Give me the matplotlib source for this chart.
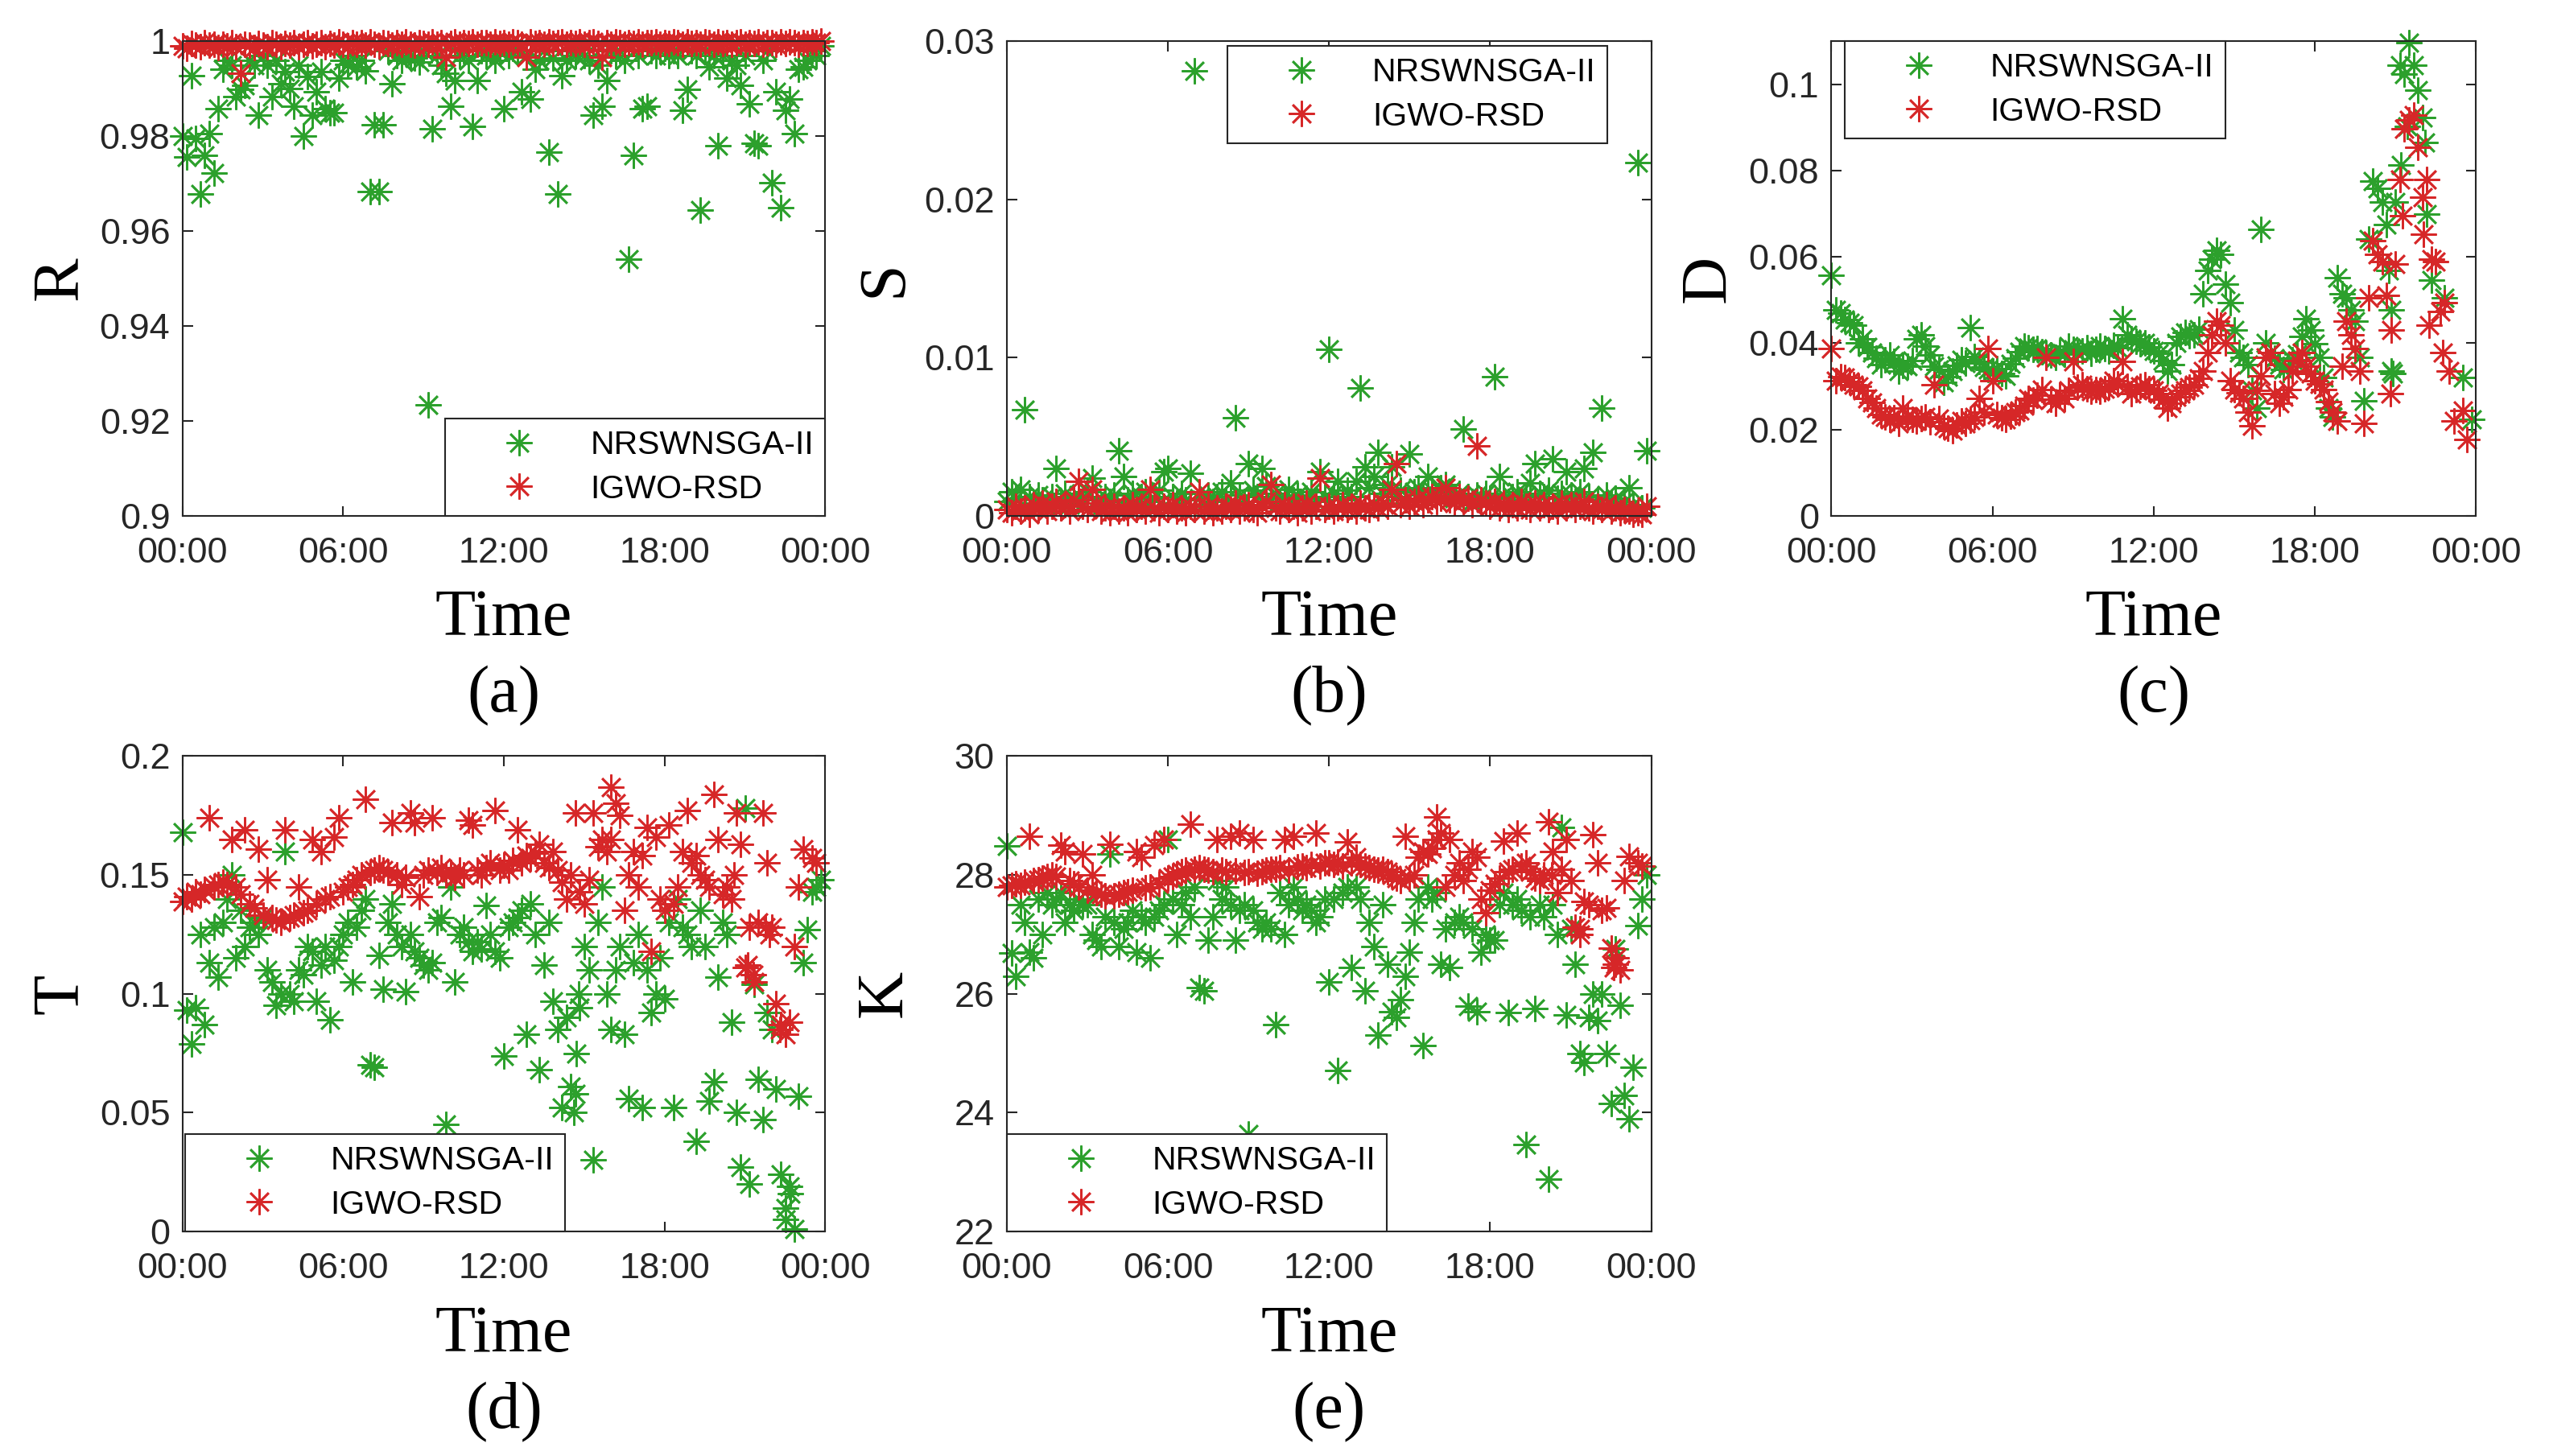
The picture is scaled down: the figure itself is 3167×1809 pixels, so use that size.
import numpy as np
import matplotlib.pyplot as plt
from matplotlib.ticker import FuncFormatter

plt.rcParams['font.family'] = ['Liberation Sans', 'DejaVu Sans']

# time of day in hours, one sample every 10 minutes
hours = np.arange(144) / 6.0
xtick_pos = [0, 6, 12, 18, 24]
xtick_lbl = ['00:00', '06:00', '12:00', '18:00', '00:00']
names = ['NRSWNSGA-II', 'IGWO-RSD']

# ---- (a) R ----
R_nrsw = [0.980, 0.9756, 0.9927, 0.9795, 0.9678, 0.976, 0.9805, 0.9722, 0.9858, 0.994, 0.996, 0.995,
          0.9883, 0.9898, 0.9907, 0.996, 0.995, 0.9844, 0.997, 0.995, 0.9883, 0.996, 0.991, 0.9935,
          0.990, 0.9863, 0.995, 0.980, 0.9925, 0.9844, 0.9893, 0.9935, 0.9858, 0.9849, 0.9849, 0.9922,
          0.996, 0.9951, 0.997, 0.9945, 0.996, 0.9937, 0.9683, 0.9824, 0.9683, 0.9824, 0.998, 0.991,
          0.997, 0.996, 0.998, 0.997, 0.9965, 0.9956, 0.998, 0.9234, 0.9815, 0.997, 0.995, 0.9932,
          0.9863, 0.9917, 0.997, 0.998, 0.996, 0.982, 0.9917, 0.998, 0.997, 0.998, 0.996, 0.998,
          0.9857, 0.997, 0.9985, 0.998, 0.9893, 0.997, 0.9878, 0.9941, 0.996, 0.998, 0.9766, 0.9965,
          0.9678, 0.9927, 0.996, 0.998, 0.997, 0.9985, 0.997, 0.996, 0.9844, 0.995, 0.9863, 0.9917,
          0.998, 0.997, 0.998, 0.996, 0.9541, 0.976, 0.997, 0.9858, 0.9863, 0.998, 0.997, 0.998,
          0.9985, 0.997, 0.998, 0.997, 0.9854, 0.9898, 0.998, 0.997, 0.9644, 0.998, 0.9946, 0.997,
          0.978, 0.997, 0.9922, 0.996, 0.995, 0.9907, 0.997, 0.9868, 0.9785, 0.978, 0.996, 0.998,
          0.9702, 0.9893, 0.9649, 0.9854, 0.9878, 0.9805, 0.9941, 0.9946, 0.996, 0.998, 0.997, 0.999]
R_igwo = [0.9990, 0.9985, 0.9995, 0.9992, 0.9988, 0.9996, 0.9991, 0.9994, 0.9987, 0.9993, 0.9990, 0.9997,
          0.9989, 0.9932, 0.9994, 0.9991, 0.9986, 0.9995, 0.9992, 0.9989, 0.9997, 0.9993, 0.9988, 0.9995,
          0.9991, 0.9996, 0.9989, 0.9994, 0.9997, 0.9990, 0.9993, 0.9996, 0.9988, 0.9995, 0.9992, 0.9998,
          0.9994, 0.9990, 0.9997, 0.9993, 0.9996, 0.9991, 0.9998, 0.9994, 0.9990, 0.9997, 0.9995, 0.9992,
          0.9996, 0.9993, 0.9998, 0.9994, 0.9991, 0.9997, 0.9995, 0.9993, 0.9998, 0.9994, 0.9996, 0.9966,
          0.9995, 0.9998, 0.9993, 0.9997, 0.9995, 0.9999, 0.9994, 0.9997, 0.9996, 0.9993, 0.9998, 0.9995,
          0.9997, 0.9994, 0.9999, 0.9996, 0.9993, 0.9966, 0.9998, 0.9995, 0.9997, 0.9993, 0.9998, 0.9995,
          0.9996, 0.9999, 0.9994, 0.9997, 0.9995, 0.9998, 0.9993, 0.9996, 0.9999, 0.9995, 0.9966, 0.9997,
          0.9994, 0.9998, 0.9996, 0.9993, 0.9997, 0.9995, 0.9999, 0.9994, 0.9997, 0.9996, 0.9998, 0.9993,
          0.9997, 0.9995, 0.9999, 0.9996, 0.9994, 0.9998, 0.9995, 0.9997, 0.9993, 0.9998, 0.9996, 0.9994,
          0.9998, 0.9995, 0.9997, 0.9993, 0.9996, 0.9999, 0.9994, 0.9997, 0.9995, 0.9998, 0.9993, 0.9996,
          0.9997, 0.9994, 0.9998, 0.9995, 0.9999, 0.9996, 0.9993, 0.9997, 0.9995, 0.9998, 0.9996, 1.0000]

# ---- (b) S ----
S_nrsw = [0.0009, 0.0015, 0.0011, 0.0017, 0.0067, 0.0012, 0.0008, 0.0013, 0.0010, 0.0006, 0.0012, 0.0030,
          0.0009, 0.0014, 0.0007, 0.0011, 0.0013, 0.0008, 0.0015, 0.0024, 0.0010, 0.0006, 0.0012, 0.0009,
          0.0013, 0.0041, 0.0025, 0.0010, 0.0014, 0.0008, 0.0012, 0.0015, 0.0009, 0.0011, 0.0016, 0.0028,
          0.0030, 0.0012, 0.0008, 0.0014, 0.0010, 0.0027, 0.0281, 0.0011, 0.0007, 0.0013, 0.0009, 0.0012,
          0.0015, 0.0010, 0.0021, 0.0062, 0.0013, 0.0009, 0.0033, 0.0016, 0.0012, 0.0030, 0.0019, 0.0011,
          0.0014, 0.0008, 0.0012, 0.0017, 0.0010, 0.0013, 0.0007, 0.0011, 0.0015, 0.0009, 0.0028, 0.0012,
          0.0105, 0.0014, 0.0022, 0.0010, 0.0016, 0.0012, 0.0022, 0.0081, 0.0031, 0.0018, 0.0025, 0.0040,
          0.0014, 0.0020, 0.0031, 0.0012, 0.0016, 0.0010, 0.0039, 0.0015, 0.0018, 0.0013, 0.0025, 0.0016,
          0.0012, 0.0018, 0.0020, 0.0015, 0.0011, 0.0014, 0.0055, 0.0012, 0.0009, 0.0013, 0.0010, 0.0014,
          0.0011, 0.0088, 0.0025, 0.0013, 0.0009, 0.0012, 0.0015, 0.0010, 0.0013, 0.0021, 0.0033, 0.0014,
          0.0012, 0.0016, 0.0036, 0.0011, 0.0014, 0.0028, 0.0013, 0.0009, 0.0015, 0.0030, 0.0012, 0.0040,
          0.0010, 0.0068, 0.0013, 0.0008, 0.0011, 0.0006, 0.0009, 0.0018, 0.0007, 0.0223, 0.0005, 0.0041]
S_igwo = [0.0004, 0.0002, 0.0006, 0.0003, 0.0005, 0.0001, 0.0007, 0.0004, 0.0008, 0.0003, 0.0006, 0.0009,
          0.0005, 0.0007, 0.0003, 0.0010, 0.0022, 0.0006, 0.0004, 0.0017, 0.0008, 0.0003, 0.0005, 0.0002,
          0.0006, 0.0003, 0.0005, 0.0002, 0.0007, 0.0004, 0.0006, 0.0003, 0.0017, 0.0005, 0.0002, 0.0006,
          0.0004, 0.0007, 0.0003, 0.0005, 0.0002, 0.0006, 0.0004, 0.0015, 0.0003, 0.0006, 0.0002, 0.0005,
          0.0003, 0.0006, 0.0004, 0.0008, 0.0003, 0.0005, 0.0007, 0.0004, 0.0002, 0.0006, 0.0009, 0.0020,
          0.0005, 0.0003, 0.0007, 0.0004, 0.0006, 0.0002, 0.0005, 0.0008, 0.0003, 0.0006, 0.0024, 0.0004,
          0.0006, 0.0003, 0.0005, 0.0007, 0.0004, 0.0006, 0.0003, 0.0008, 0.0005, 0.0004, 0.0007, 0.0005,
          0.0008, 0.0006, 0.0017, 0.0033, 0.0007, 0.0010, 0.0006, 0.0009, 0.0011, 0.0007, 0.0010, 0.0012,
          0.0009, 0.0011, 0.0018, 0.0010, 0.0008, 0.0012, 0.0009, 0.0011, 0.0007, 0.0044, 0.0010, 0.0008,
          0.0006, 0.0009, 0.0005, 0.0008, 0.0004, 0.0007, 0.0005, 0.0009, 0.0006, 0.0004, 0.0008, 0.0005,
          0.0007, 0.0004, 0.0006, 0.0003, 0.0008, 0.0005, 0.0007, 0.0004, 0.0006, 0.0009, 0.0005, 0.0003,
          0.0006, 0.0004, 0.0007, 0.0003, 0.0005, 0.0002, 0.0004, 0.0003, 0.0001, 0.0002, 0.0001, 0.0006]

# ---- (c) D ----
nan = np.nan
D_nrsw = [0.0558, 0.0478, 0.0470, 0.0455, 0.0448, 0.0441, 0.0400, 0.0410, 0.0392, 0.0378, 0.0365, 0.0351,
          0.0362, 0.0372, 0.0358, 0.0335, 0.0348, 0.0346, 0.0360, 0.0410, 0.0420, 0.0394, 0.0372, 0.0346,
          0.0340, 0.0309, 0.0322, 0.0335, 0.0348, 0.0362, 0.0355, 0.0436, 0.0370, 0.0357, 0.0345, 0.0340,
          0.0335, 0.0342, 0.0330, 0.0325, 0.0352, 0.0365, 0.0380, 0.0394, 0.0390, 0.0385, 0.0388, 0.0380,
          0.0376, 0.0372, 0.0368, 0.0380, 0.0375, 0.0394, 0.0385, 0.0378, 0.0382, 0.0390, 0.0376, 0.0386,
          0.0394, 0.0388, 0.0383, 0.0395, 0.0390, 0.0457, 0.0420, 0.0410, 0.0405, 0.0398, 0.0400, 0.0392,
          0.0383, 0.0376, 0.0360, 0.0335, 0.0350, 0.0400, 0.0415, 0.0425, 0.0418, 0.0420, 0.0432, 0.0515,
          0.0568, 0.0595, 0.0616, 0.0605, 0.0537, 0.0494, 0.0431, 0.0378, 0.0367, 0.0350, 0.0290, 0.0250,
          0.0663, 0.0400, 0.0378, 0.0365, 0.0351, 0.0340, 0.0346, 0.0362, 0.0375, 0.0415, 0.0457, 0.0431,
          0.0399, 0.0367, 0.0320, 0.0250, 0.0230, 0.0552, 0.0515, 0.0505, 0.0478, 0.0452, 0.0367, 0.0267,
          0.0642, 0.0775, 0.0759, 0.0727, 0.0674, 0.0478, 0.0727, 0.1044, 0.1023, 0.1097, 0.1044, 0.0986,
          0.0923, 0.0700, 0.0547, nan, nan, 0.0505, nan, nan, nan, 0.0320, nan, 0.0224]
D_igwo = [0.0388, 0.0314, 0.0322, 0.0320, 0.0312, 0.0304, 0.0300, 0.0290, 0.0272, 0.0262, 0.0250, 0.0235,
          0.0230, 0.0224, 0.0228, 0.0214, 0.0250, 0.0232, 0.0224, 0.0220, 0.0226, 0.0230, 0.0218, 0.0304,
          0.0225, 0.0208, 0.0204, 0.0198, 0.0210, 0.0219, 0.0215, 0.0222, 0.0230, 0.0272, 0.0240, 0.0388,
          0.0314, 0.0235, 0.0228, 0.0224, 0.0232, 0.0240, 0.0245, 0.0255, 0.0272, 0.0268, 0.0280, 0.0293,
          0.0367, 0.0270, 0.0261, 0.0280, 0.0272, 0.0290, 0.0357, 0.0298, 0.0304, 0.0295, 0.0288, 0.0293,
          0.0288, 0.0295, 0.0300, 0.0314, 0.0305, 0.0357, 0.0300, 0.0283, 0.0292, 0.0300, 0.0304, 0.0295,
          0.0290, 0.0283, 0.0270, 0.0250, 0.0261, 0.0275, 0.0283, 0.0290, 0.0298, 0.0304, 0.0318, 0.0335,
          0.0378, 0.0420, 0.0452, 0.0441, 0.0400, 0.0314, 0.0293, 0.0285, 0.0272, 0.0240, 0.0208, 0.0290,
          0.0325, 0.0367, 0.0378, 0.0283, 0.0261, 0.0275, 0.0293, 0.0335, 0.0360, 0.0378, 0.0346, 0.0330,
          0.0314, 0.0305, 0.0293, 0.0265, 0.0240, 0.0219, 0.0346, 0.0452, 0.0420, 0.0388, 0.0335, 0.0214,
          0.0505, 0.0637, 0.0605, 0.0590, 0.0510, 0.0431, 0.0584, 0.0780, 0.0896, 0.0917, 0.0928, 0.0854,
          0.0738, 0.0780, 0.0595, 0.0590, 0.0473, 0.0494, 0.0335, 0.0219, nan, 0.0245, 0.0177, nan]
# extra evening samples (hour, value)
D_nrsw_extra_h = [20.75, 20.85, 20.9, 21.2, 21.45, 22.1]
D_nrsw_extra = [0.0568, 0.0335, 0.0330, 0.0812, 0.0902, 0.0865]
D_igwo_extra_h = [20.8, 21.25, 22.05, 22.25, 22.75]
D_igwo_extra = [0.0283, 0.0695, 0.0653, 0.0441, 0.0378]

# ---- (d) T ----
T_nrsw = [0.168, 0.093, 0.079, 0.094, 0.125, 0.087, 0.113, 0.128, 0.107, 0.130, 0.140, 0.150,
          0.115, 0.135, 0.120, 0.128, 0.130, 0.125, 0.132, 0.110, 0.105, 0.095, 0.100, 0.160,
          0.100, 0.097, 0.110, 0.108, 0.120, 0.118, 0.097, 0.112, 0.120, 0.089, 0.114, 0.120,
          0.125, 0.130, 0.105, 0.128, 0.135, 0.140, 0.070, 0.069, 0.116, 0.102, 0.130, 0.138,
          0.125, 0.120, 0.101, 0.125, 0.118, 0.115, 0.112, 0.110, 0.113, 0.130, 0.132, 0.045,
          0.145, 0.105, 0.125, 0.128, 0.122, 0.118, 0.122, 0.119, 0.137, 0.125, 0.118, 0.115,
          0.074, 0.128, 0.130, 0.132, 0.135, 0.083, 0.138, 0.125, 0.068, 0.112, 0.130, 0.097,
          0.085, 0.052, 0.090, 0.061, 0.058, 0.094, 0.120, 0.110, 0.030, 0.130, 0.145, 0.100,
          0.085, 0.110, 0.120, 0.083, 0.056, 0.113, 0.125, 0.052, 0.110, 0.092, 0.100, 0.115,
          0.098, 0.130, 0.052, 0.140, 0.128, 0.125, 0.120, 0.038, 0.135, 0.120, 0.055, 0.063,
          0.107, 0.130, 0.125, 0.088, 0.050, 0.027, 0.178, 0.020, 0.104, 0.064, 0.047, 0.092,
          0.085, 0.060, 0.024, 0.010, 0.019, 0.001, 0.057, 0.113, 0.127, 0.143, 0.145, 0.148]
T_igwo = [0.139, 0.141, 0.140, 0.143, 0.142, 0.144, 0.174, 0.145, 0.146, 0.147, 0.146, 0.165,
          0.145, 0.142, 0.169, 0.138, 0.136, 0.161, 0.133, 0.148, 0.132, 0.131, 0.130, 0.169,
          0.132, 0.133, 0.145, 0.134, 0.135, 0.165, 0.138, 0.160, 0.140, 0.141, 0.166, 0.174,
          0.143, 0.145, 0.146, 0.148, 0.150, 0.182, 0.151, 0.152, 0.153, 0.152, 0.151, 0.172,
          0.150, 0.146, 0.149, 0.176, 0.172, 0.141, 0.150, 0.152, 0.174, 0.151, 0.153, 0.150,
          0.151, 0.149, 0.152, 0.150, 0.173, 0.171, 0.152, 0.150, 0.153, 0.155, 0.177, 0.152,
          0.154, 0.152, 0.156, 0.169, 0.155, 0.158, 0.157, 0.159, 0.163, 0.155, 0.153, 0.160,
          0.152, 0.147, 0.140, 0.150, 0.176, 0.143, 0.138, 0.148, 0.176, 0.162, 0.165, 0.160,
          0.187, 0.180, 0.175, 0.135, 0.150, 0.160, 0.145, 0.158, 0.170, 0.118, 0.166, 0.140,
          0.135, 0.171, 0.138, 0.145, 0.160, 0.177, 0.155, 0.158, 0.150, 0.148, 0.145, 0.184,
          0.165, 0.142, 0.145, 0.140, 0.176, 0.163, 0.111, 0.128, 0.105, 0.130, 0.176, 0.155,
          0.128, 0.096, 0.087, 0.083, 0.088, 0.120, 0.145, 0.161, nan, 0.157, 0.155, nan]
T_nrsw_extra_h = [14.6, 14.7, 14.8, 22.5, 22.7]
T_nrsw_extra = [0.050, 0.075, 0.100, 0.005, 0.016]
T_igwo_extra_h = [16.0, 20.6, 21.1, 21.3, 21.75, 21.9, 22.3]
T_igwo_extra = [0.165, 0.150, 0.112, 0.108, 0.128, 0.125, 0.085]

# ---- (e) K ----
K_nrsw = [28.49, 26.69, 26.30, 27.50, 27.20, 26.70, 26.60, 27.60, 27.00, 27.70, 27.50, 27.60,
          27.70, 27.20, 27.50, 27.40, 27.60, 27.50, 27.50, 27.00, 26.90, 26.80, 27.30, 28.35,
          27.20, 26.80, 27.10, 27.20, 27.40, 26.70, 27.30, 27.20, 26.60, 27.30, 27.40, 27.50,
          28.60, 27.60, 27.00, 27.50, 27.70, 27.30, 27.80, 26.10, 26.05, 26.90, 27.30, 27.90,
          27.60, 27.80, 27.50, 26.90, 27.40, 27.50, 23.64, 27.40, 27.20, 27.10, 27.20, 27.10,
          25.48, 27.70, 27.00, 27.50, 27.80, 27.60, 27.40, 27.50, 27.40, 27.20, 27.30, 27.60,
          26.20, 27.60, 24.71, 27.70, 27.80, 26.45, 27.80, 27.60, 26.05, 27.20, 26.80, 25.30,
          27.50, 26.50, 25.70, 25.60, 25.90, 26.30, 26.70, 27.20, 27.60, 25.13, 27.80, 27.60,
          27.70, 26.50, 27.10, 26.45, 27.20, 27.30, 27.20, 25.79, 27.10, 25.70, 26.70, 27.00,
          26.90, 26.90, 27.50, 27.70, 25.69, 27.50, 27.60, 27.40, 23.47, 27.30, 25.75, 27.50,
          27.30, 22.88, 27.50, 27.00, 28.80, 25.65, 27.10, 26.50, 25.00, 24.85, 25.60, 26.00,
          25.55, 26.00, 25.00, 24.15, 26.75, 25.80, 24.29, 23.90, 24.76, 27.15, 27.60, 28.00]
K_igwo = [27.80, 27.82, 27.85, 27.83, 27.88, 28.65, 27.90, 27.92, 27.95, 27.98, 28.00, 27.97,
          28.50, 28.40, 27.90, 27.85, 27.80, 28.35, 27.75, 28.00, 27.70, 27.68, 27.65, 28.51,
          27.65, 27.68, 27.70, 27.72, 27.75, 28.40, 28.30, 27.78, 27.80, 28.50, 27.85, 28.60,
          27.95, 27.98, 28.02, 28.05, 28.08, 28.85, 28.10, 28.12, 28.10, 28.08, 28.06, 28.60,
          28.08, 28.05, 28.65, 28.07, 28.70, 28.04, 28.06, 28.60, 28.03, 28.05, 28.08, 28.10,
          28.10, 28.12, 28.60, 28.08, 28.65, 28.14, 28.15, 28.12, 28.18, 28.71, 28.15, 28.20,
          28.20, 28.18, 28.22, 28.15, 28.55, 28.20, 28.30, 28.18, 28.15, 28.12, 28.10, 28.08,
          28.10, 28.05, 28.00, 27.95, 27.90, 28.65, 27.95, 28.00, 28.30, 28.40, 28.35, 28.45,
          28.98, 28.70, 27.80, 28.60, 28.00, 28.20, 27.90, 28.10, 28.40, 28.30, 27.60, 27.36,
          27.75, 27.85, 27.95, 28.57, 28.05, 28.10, 28.70, 28.15, 28.20, 28.05, 27.95, 27.90,
          28.00, 28.89, 28.40, 27.70, 28.10, 28.60, 27.90, 27.12, 27.00, 27.55, 27.50, 28.68,
          28.20, 27.40, 27.45, 26.77, 26.50, 26.40, 27.90, 28.31, nan, 28.20, 28.15, nan]
K_igwo_extra_h = [16.0, 20.3, 21.35, 22.6, 22.7]
K_igwo_extra = [28.60, 28.00, 27.10, 26.45, 26.60]

green = '#2ca02c'
red = '#d62728'
axis_color = (0.15, 0.15, 0.15)
star = (8, 2, 0)


def draw_panel(ax, nrsw, igwo, ylab, ylim, yticks, tag, leg_loc, leg_anchor,
               nrsw_extra=None, igwo_extra=None):
    xg, yg = hours, np.array(nrsw, dtype=float)
    if nrsw_extra is not None:
        xg = np.concatenate([xg, nrsw_extra[0]])
        yg = np.concatenate([yg, nrsw_extra[1]])
    xr, yr = hours, np.array(igwo, dtype=float)
    if igwo_extra is not None:
        xr = np.concatenate([xr, igwo_extra[0]])
        yr = np.concatenate([yr, igwo_extra[1]])

    ax.plot(xg, yg, linestyle='none', marker=star, ms=23, mew=1.9,
            color=green, label=names[0], clip_on=False)
    ax.plot(xr, yr, linestyle='none', marker=star, ms=23, mew=1.9,
            color=red, label=names[1], clip_on=False)

    ax.set_xlim(0, 24)
    ax.set_ylim(*ylim)
    ax.set_xticks(xtick_pos)
    ax.set_xticklabels(xtick_lbl)
    ax.set_yticks(yticks)
    ax.yaxis.set_major_formatter(FuncFormatter(lambda v, p: f'{v:g}'))

    for sp in ax.spines.values():
        sp.set_color(axis_color)
        sp.set_linewidth(1.5)
    ax.tick_params(direction='in', length=9, width=1.5, colors=axis_color,
                   labelsize=32.5, top=True, right=True)
    ax.tick_params(axis='x', pad=19)
    ax.tick_params(axis='y', pad=11)

    ax.set_ylabel(ylab, family='Liberation Serif', fontsize=59, color='black')
    ax.yaxis.set_label_coords(-0.142, 0.5)
    ax.set_xlabel('Time', family='Liberation Serif', fontsize=59, color='black')
    ax.xaxis.set_label_coords(0.5, -0.218)
    ax.xaxis.label.set_va('center')
    ax.text(0.5, -0.38, tag, transform=ax.transAxes, ha='center', va='center',
            family='Liberation Serif', fontsize=59)

    leg = ax.legend(loc=leg_loc, bbox_to_anchor=leg_anchor, borderaxespad=0,
                    fontsize=29.5, fancybox=False, framealpha=1, edgecolor=axis_color,
                    borderpad=0.35, handlelength=3.8, handletextpad=0.25,
                    labelspacing=0.4)
    leg.get_frame().set_linewidth(1.5)


fig = plt.figure(figsize=(31.67, 18.09), dpi=100)

ax_a = fig.add_axes([0.0716, 0.6457, 0.2522, 0.3261])
ax_b = fig.add_axes([0.3950, 0.6457, 0.2528, 0.3261])
ax_c = fig.add_axes([0.7185, 0.6457, 0.2529, 0.3261])
ax_d = fig.add_axes([0.0716, 0.1542, 0.2522, 0.3265])
ax_e = fig.add_axes([0.3950, 0.1542, 0.2528, 0.3265])

draw_panel(ax_a, R_nrsw, R_igwo, 'R', (0.9, 1.0), [0.9, 0.92, 0.94, 0.96, 0.98, 1.0],
           '(a)', 'lower right', (1.0, 0.0))
draw_panel(ax_b, S_nrsw, S_igwo, 'S', (0, 0.03), [0, 0.01, 0.02, 0.03],
           '(b)', 'upper right', (0.932, 0.99))
draw_panel(ax_c, D_nrsw, D_igwo, 'D', (0, 0.11), [0, 0.02, 0.04, 0.06, 0.08, 0.1],
           '(c)', 'upper left', (0.021, 1.0),
           nrsw_extra=(D_nrsw_extra_h, D_nrsw_extra), igwo_extra=(D_igwo_extra_h, D_igwo_extra))
draw_panel(ax_d, T_nrsw, T_igwo, 'T', (0, 0.2), [0, 0.05, 0.1, 0.15, 0.2],
           '(d)', 'lower left', (0.004, 0.0),
           nrsw_extra=(T_nrsw_extra_h, T_nrsw_extra), igwo_extra=(T_igwo_extra_h, T_igwo_extra))
draw_panel(ax_e, K_nrsw, K_igwo, 'K', (22, 30), [22, 24, 26, 28, 30],
           '(e)', 'lower left', (0.0, 0.0),
           igwo_extra=(K_igwo_extra_h, K_igwo_extra))

fig.savefig('out.png', dpi=100)
